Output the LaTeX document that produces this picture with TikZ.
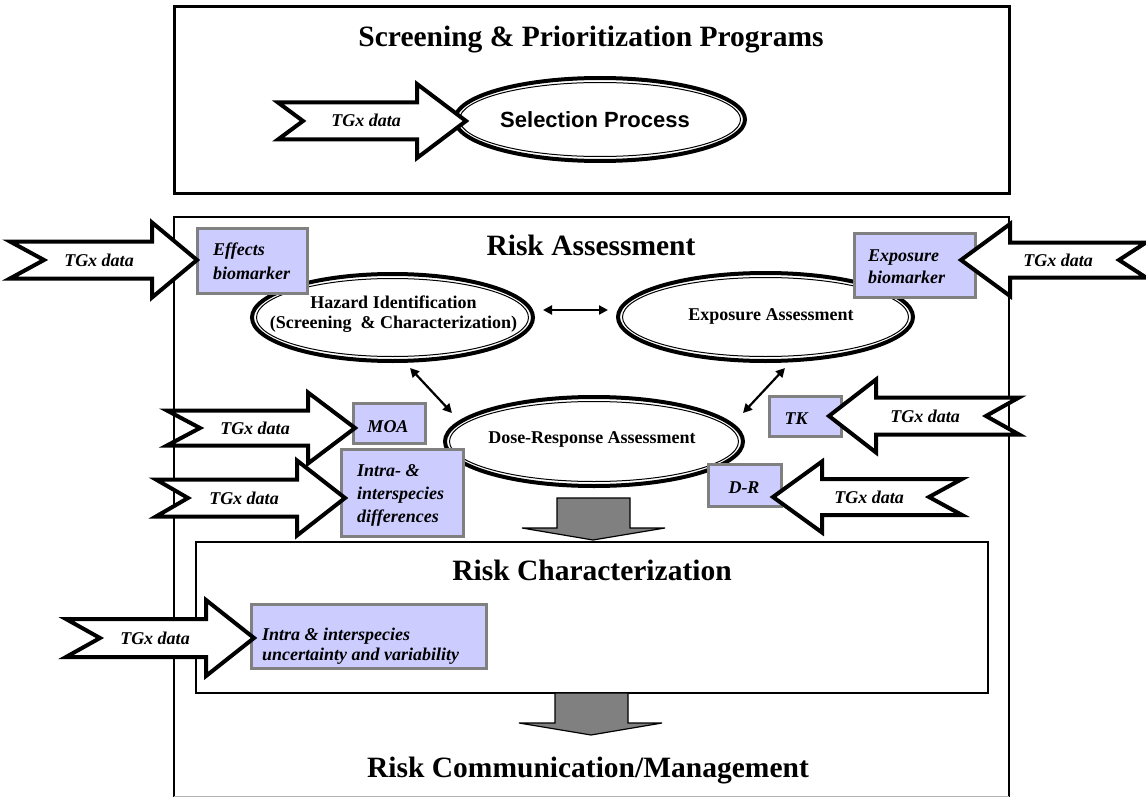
\documentclass[tikz,border=0pt]{standalone}
\usepackage{fontspec}
\setmainfont{Liberation Serif}
\newfontfamily\arialf{Liberation Sans}
\usetikzlibrary{arrows.meta}
\definecolor{lav}{RGB}{204,204,255}
\definecolor{midgray}{RGB}{128,128,128}
% block arrow: tail x, notch x, head-base x, tip x, centre y, half body, half head
\newcommand\blkarrow[7]{%
  \draw[blkarr] (#1,#5-#6) -- (#3,#5-#6) -- (#3,#5-#7) -- (#4,#5) -- (#3,#5+#7)
    -- (#3,#5+#6) -- (#1,#5+#6) -- (#2,#5) -- cycle;}
% double-line ellipse: centre coordinate, x radius, y radius
\newcommand\dblell[3]{%
  \draw[line width=4pt] (#1) ellipse [x radius=#2pt, y radius=#3pt];
  \draw[line width=1pt] (#1) ellipse [x radius=#2pt-4.5pt, y radius=#3pt-4.5pt];}
\tikzset{
  frame/.style={draw=black, line width=2.6pt},
  titletxt/.style={font=\bfseries\fontsize{29.5}{34}\selectfont, inner sep=0pt, anchor=base},
  elltxt/.style={font=\bfseries\fontsize{18}{20}\selectfont, inner sep=0pt},
  labtxt/.style={font=\bfseries\itshape\fontsize{18}{22}\selectfont, inner sep=0pt},
  bx/.style={draw=midgray, line width=3pt, fill=lav, inner sep=0pt},
  blkarr/.style={draw=black, line width=4pt, fill=white},
  grayarr/.style={draw=black, line width=1.2pt, fill=midgray},
  dbl/.style={line width=2.2pt, {Triangle[length=9pt,width=9pt]}-{Triangle[length=9pt,width=9pt]}},
}
\begin{document}
\begin{tikzpicture}[x=1pt, y=-1pt]
\useasboundingbox[fill=white] (0,0) rectangle (1146,797);

% ---------- frames ----------
\draw[frame, line width=3pt] (174,7) rectangle (1009,193);
\draw[frame] (174,797) -- (174,217) -- (1009,217) -- (1009,797);
\draw[gray!60, line width=1pt] (174,796) -- (1009,796);
\draw[frame] (196,542) rectangle (988,693);

% ---------- titles ----------
\node[titletxt] (tscreen) at (591,47) {Screening \& Prioritization Programs};
\node[titletxt] (trisk) at (591,255) {Risk Assessment};
\node[titletxt] (tchar) at (592,580) {Risk Characterization};
\node[titletxt] (tcomm) at (588,777) {Risk Communication/Management};

% ---------- ellipses ----------
\coordinate (selc) at (600,119.5);
\coordinate (hazc) at (392.5,317.5);
\coordinate (expc) at (765.5,317);
\coordinate (dosc) at (594,441.5);
\dblell{selc}{145}{41.5}
\dblell{hazc}{140.5}{43.5}
\dblell{expc}{147.5}{44}
\dblell{dosc}{149}{44.5}
\node[font=\arialf\bfseries\fontsize{22}{26}\selectfont, inner sep=0pt, anchor=base] (sel) at (595,128) {Selection Process};
\node[elltxt, align=center, anchor=north] (haz) at (393.5,295.7) {Hazard Identification\\(Screening~~\& Characterization)};
\node[elltxt, anchor=base] (expo) at (771,320) {Exposure Assessment};
\node[elltxt, anchor=base] (dose) at (592,443) {Dose-Response Assessment};

% ---------- connectors between the assessments ----------
\coordinate (hzE) at (543,310);
\coordinate (exW) at (608,310);
\coordinate (hzS) at (410,368);
\coordinate (drNW) at (452,413);
\coordinate (exS) at (785,368);
\coordinate (drNE) at (743,413);
\draw[dbl] (hzE) -- (exW);
\draw[dbl] (hzS) -- (drNW);
\draw[dbl] (exS) -- (drNE);

% ---------- grey flow arrows ----------
\draw[grayarr] (557,498) -- (630,498) -- (630,528) -- (665,528) -- (593,540) -- (522,528) -- (557,528) -- cycle;
\draw[grayarr] (555,693) -- (628,693) -- (628,723) -- (662,723) -- (591,735) -- (519,723) -- (555,723) -- cycle;

% ---------- lavender boxes ----------
\node[bx, minimum width=110pt, minimum height=65pt] (effb) at (252.5,261) {};
\node[labtxt, align=left, anchor=north west, font=\bfseries\itshape\fontsize{18}{24}\selectfont] (efft) at (213,242.7) {Effects\\biomarker};
\node[bx, minimum width=121pt, minimum height=64pt] (expb) at (915,265.5) {};
\node[labtxt, align=left, anchor=north west, font=\bfseries\itshape\fontsize{18}{21.5}\selectfont] (expt) at (868,250) {Exposure\\biomarker};
\node[bx, minimum width=72pt, minimum height=40pt] (moab) at (389.5,423.5) {};
\node[labtxt, anchor=base] (moat) at (388,432) {MOA};
\node[bx, minimum width=122pt, minimum height=87pt] (intb) at (402.5,493) {};
\node[labtxt, align=left, anchor=north west, font=\bfseries\itshape\fontsize{18}{23}\selectfont] (intt) at (357,464.6) {Intra- \&\\interspecies\\differences};
\node[bx, minimum width=72pt, minimum height=40pt] (tkb) at (805.5,416.5) {};
\node[labtxt, anchor=base] (tkt) at (796,424) {TK};
\node[bx, minimum width=73pt, minimum height=42pt] (drb) at (745,485.5) {};
\node[labtxt, anchor=base] (drt) at (744,493) {D-R};
\node[bx, minimum width=235pt, minimum height=64pt] (rcb) at (369,636.5) {};
\node[labtxt, align=left, anchor=north west, font=\bfseries\itshape\fontsize{18}{20}\selectfont] (rct) at (262,628) {Intra \& interspecies\\uncertainty and variability};

% ---------- TGx data block arrows ----------
\blkarrow{278}{303}{417}{466}{121}{18.5}{37}
\node[labtxt, anchor=base] (g1) at (366,127) {TGx data};
\blkarrow{10}{44}{152}{197}{260}{18.5}{37.5}
\node[labtxt, anchor=base] (g2) at (99,266) {TGx data};
\blkarrow{167}{200}{308}{355}{428}{17.5}{35.5}
\node[labtxt, anchor=base] (g3) at (255,434) {TGx data};
\blkarrow{156}{188}{297}{345}{498}{18.5}{37.5}
\node[labtxt, anchor=base] (g4) at (244,504) {TGx data};
\blkarrow{66}{100}{206}{254}{638}{19}{38}
\node[labtxt, anchor=base] (g5) at (155,644) {TGx data};
\blkarrow{1146}{1119}{1010}{961}{260}{17.5}{36}
\node[labtxt, anchor=base] (g6) at (1058,266) {TGx data};
\blkarrow{1019}{986}{876}{829}{416}{18.5}{36.5}
\node[labtxt, anchor=base] (g7) at (925,422) {TGx data};
\blkarrow{962}{929}{822}{773}{497}{18}{35.5}
\node[labtxt, anchor=base] (g8) at (869,503) {TGx data};
\end{tikzpicture}
\end{document}
